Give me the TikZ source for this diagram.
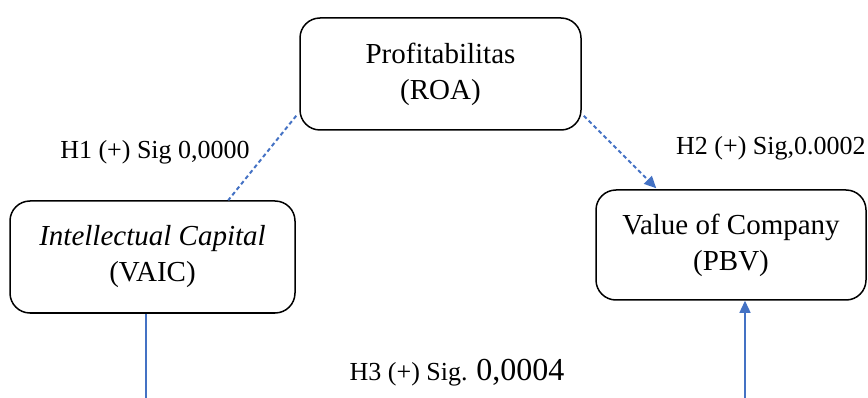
\documentclass[tikz,border=0pt]{standalone}
\usepackage{fontspec}
\setmainfont{Liberation Serif}
\usetikzlibrary{arrows.meta}
\definecolor{lnblue}{HTML}{4472C4}
\begin{document}
\begin{tikzpicture}[x=1pt,y=-1pt,
  boxnode/.style={draw=black,line width=1.5pt,rounded corners=20pt,align=center,
    font=\fontsize{29}{36}\selectfont,inner sep=0pt},
  lbl/.style={font=\fontsize{26}{30}\selectfont,inner sep=0pt},
  dotl/.style={draw=lnblue,line width=2pt,dash pattern=on 4pt off 3pt},
  solidl/.style={draw=lnblue,line width=1.3pt},
  tip/.style={-{Triangle[length=12pt,width=11pt]}}]
\useasboundingbox (0,0) rectangle (868,398);
\node[boxnode,minimum width=281pt,minimum height=112pt] (roa) at (440.5,74) {Profitabilitas\\(ROA)};
\node[boxnode,minimum width=285pt,minimum height=112pt] (vaic) at (152.5,257) {\textit{Intellectual Capital}\\(VAIC)};
\node[boxnode,minimum width=270pt,minimum height=110pt] (pbv) at (731,245) {Value of Company\\(PBV)};
\coordinate (vaicend) at (146,398);
\coordinate (pbvstart) at (745,398);
\draw[dotl] ([xshift=-3pt,yshift=15pt]roa.south west) -- ([xshift=219pt]vaic.north west);
\draw[dotl,tip] ([xshift=2pt,yshift=15pt]roa.south east) -- ([xshift=61pt,yshift=1pt]pbv.north west);
\draw[solidl] (vaic.south -| vaicend) -- (vaicend);
\draw[solidl,tip] (pbvstart) -- (pbv.south -| pbvstart);
\node[lbl] (h1) at (155,152) {H1 (+) Sig 0,0000};
\node[lbl,anchor=west] (h2) at (676,148) {H2 (+) Sig,0.0002};
\node[lbl] (h3) at (457,373) {H3 (+) Sig. {\fontsize{32}{34}\selectfont 0,0004}};
\end{tikzpicture}
\end{document}
